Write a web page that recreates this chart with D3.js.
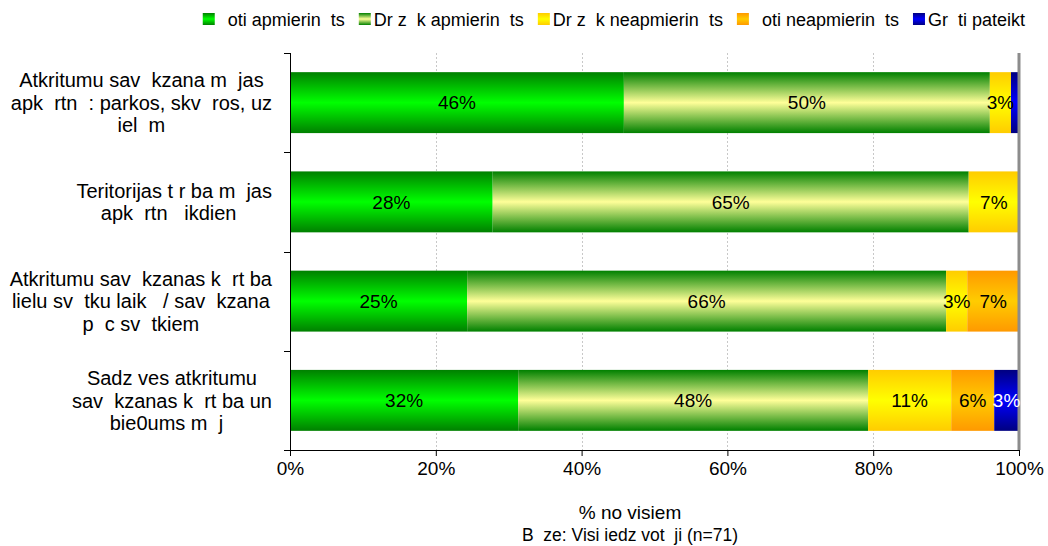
<!DOCTYPE html>
<html>
<head>
<meta charset="utf-8">
<script src="https://cdn.jsdelivr.net/npm/d3@7"></script>
<style>
  html, body { margin: 0; padding: 0; background: #fff; }
  svg { display: block; font-family: "Liberation Sans", Arial, sans-serif; }
  text { white-space: pre; }
</style>
</head>
<body>
<svg id="chart" width="1048" height="546"></svg>
<script>
// ---------- data ----------
const categories = [
  ["Atkritumu sav  kzana m  jas", "apk  rtn  : parkos, skv  ros, uz", "iel  m"],
  ["Teritorijas t r ba m  jas", "apk  rtn   ikdien  "],
  ["Atkritumu sav  kzanas k  rt ba", "lielu sv  tku laik   / sav  kzana", "p  c sv  tkiem"],
  ["Sadz ves atkritumu", "sav  kzanas k  rt ba un", "bie0ums m  j  "]
];
const seriesNames = ["  oti apmierin  ts", "Dr z  k apmierin  ts", "Dr z  k neapmierin  ts", "  oti neapmierin  ts", "Gr  ti pateikt"];
const s1Values = [45.8, 27.8, 24.3, 31.3];
const s2Values = [50.2, 65.3, 65.7, 48.0];
const s3Values = [2.9, 6.9, 2.9, 11.4];
const s4Values = [0, 0, 7.1, 5.9];
const s5Values = [1.1, 0, 0, 3.4];
const s1Labels = ["46%", "28%", "25%", "32%"];
const s2Labels = ["50%", "65%", "66%", "48%"];
const s3Labels = ["3%", "7%", "3%", "11%"];
const s4Labels = ["", "", "7%", "6%"];
const s5Labels = ["", "", "", "3%"];
const tickValues = [0, 20, 40, 60, 80, 100];
const tickLabels = ["0%", "20%", "40%", "60%", "80%", "100%"];
const axisTitle = "% no visiem";
const noteText = "B  ze: Visi iedz vot  ji (n=71)";

// ---------- build ----------
const seriesValues = [s1Values, s2Values, s3Values, s4Values, s5Values];
const seriesLabels = [s1Labels, s2Labels, s3Labels, s4Labels, s5Labels];
const keys = seriesNames.map((d, i) => "s" + i);
const table = categories.map((c, ci) => {
  const row = { idx: ci };
  keys.forEach((k, si) => row[k] = seriesValues[si][ci]);
  return row;
});
const stacked = d3.stack().keys(keys)(table);

const gradStops = [
  ["#008000", "#00ff00"],
  ["#008000", "#ffff99"],
  ["#ffcc00", "#ffff00"],
  ["#ff9900", "#ffcc00"],
  ["#000080", "#0000ff"]
];
const labelColors = ["#000", "#000", "#000", "#000", "#fff"];

const svg = d3.select("#chart");
const defs = svg.append("defs");
gradStops.forEach((g, i) => {
  const lg = defs.append("linearGradient").attr("id", "g" + i)
    .attr("x1", 0).attr("y1", 0).attr("x2", 0).attr("y2", 1);
  lg.append("stop").attr("offset", "0%").attr("stop-color", g[0]);
  lg.append("stop").attr("offset", "50%").attr("stop-color", g[1]);
  lg.append("stop").attr("offset", "100%").attr("stop-color", g[0]);
});

const x = d3.scaleLinear().domain([0, 100]).range([290, 1019]);
const plotTop = 53, plotBottom = 450;
const y = d3.scaleBand().domain(d3.range(categories.length)).range([plotTop, plotBottom])
  .paddingInner(0.386).paddingOuter(0.193);

// gridlines
svg.append("g").selectAll("line").data(tickValues.filter(v => v > 0 && v < 100)).join("line")
  .attr("x1", d => Math.round(x(d)) + 0.5).attr("x2", d => Math.round(x(d)) + 0.5)
  .attr("y1", plotTop).attr("y2", plotBottom)
  .attr("stroke", "#c8c8c8").attr("stroke-width", 1).attr("stroke-dasharray", "2,2");

// bars
const groups = svg.append("g").selectAll("g").data(stacked).join("g")
  .attr("fill", (d, i) => `url(#g${i})`);
groups.selectAll("rect").data(d => d).join("rect")
  .attr("x", d => x(d[0]))
  .attr("width", d => Math.max(0, x(d[1]) - x(d[0])))
  .attr("y", d => y(d.data.idx))
  .attr("height", y.bandwidth());

// right border line
svg.append("line").attr("x1", x(100)).attr("x2", x(100)).attr("y1", plotTop).attr("y2", plotBottom)
  .attr("stroke", "#8c8c8c").attr("stroke-width", 3);

// bar labels
stacked.forEach((s, si) => {
  svg.append("g").selectAll("text").data(s).join("text")
    .attr("x", d => (x(d[0]) + x(d[1])) / 2)
    .attr("y", d => y(d.data.idx) + y.bandwidth() / 2)
    .attr("dy", "0.36em")
    .attr("text-anchor", "middle")
    .attr("font-size", 19)
    .attr("fill", labelColors[si])
    .text(d => seriesLabels[si][d.data.idx]);
});

// left axis
svg.append("line").attr("x1", 290.5).attr("x2", 290.5).attr("y1", plotTop).attr("y2", plotBottom)
  .attr("stroke", "#000");
const step = y.step();
svg.append("g").selectAll("line").data(d3.range(categories.length + 1)).join("line")
  .attr("x1", 284).attr("x2", 290)
  .attr("y1", i => Math.round(plotTop + i * step) + 0.5).attr("y2", i => Math.round(plotTop + i * step) + 0.5)
  .attr("stroke", "#000");

// bottom axis
const xAxis = d3.axisBottom(x).tickValues(tickValues)
  .tickFormat((d, i) => tickLabels[i]).tickSize(6).tickPadding(6);
const gx = svg.append("g").attr("transform", `translate(0,${plotBottom})`).call(xAxis);
gx.select(".domain").attr("stroke", "#000").attr("d", `M${x(0)},0.5H${x(100)}`);
gx.selectAll(".tick line").attr("stroke", "#000");
gx.selectAll(".tick text").attr("font-size", 19).attr("fill", "#000")
  .attr("font-family", "'Liberation Sans', Arial, sans-serif");

// category labels
const lineH = 22.5;
categories.forEach((lines, ci) => {
  const g = svg.append("g");
  const cy = y(ci) + y.bandwidth() / 2;
  const texts = g.selectAll("text").data(lines).join("text")
    .attr("font-size", 20).attr("fill", "#000")
    .attr("text-anchor", "middle")
    .attr("y", (d, i) => cy + (i - (lines.length - 1) / 2) * lineH)
    .attr("dy", "0.36em")
    .text(d => d);
  let maxW = 0;
  texts.each(function () { maxW = Math.max(maxW, this.getComputedTextLength()); });
  texts.attr("x", 272 - maxW / 2);
});

// axis title & note
svg.append("text").attr("x", 630).attr("y", 519).attr("text-anchor", "middle")
  .attr("font-size", 19).text(axisTitle);
svg.append("text").attr("x", 630).attr("y", 541).attr("text-anchor", "middle")
  .attr("font-size", 17.5).text(noteText);

// legend
const legend = svg.append("g");
const items = legend.selectAll("g").data(seriesNames).join("g");
items.append("rect").attr("width", 12).attr("height", 12).attr("y", 13)
  .attr("fill", (d, i) => `url(#g${i})`);
items.append("text").attr("x", 15).attr("y", 25.5).attr("font-size", 18).text(d => d);
let lx = 0;
const pos = [];
items.each(function () {
  pos.push(lx);
  const w = d3.select(this).select("text").node().getComputedTextLength();
  lx += 15 + w + 14;
});
const total = lx - 14;
const startX = 1025 - total;
items.attr("transform", (d, i) => `translate(${startX + pos[i]},0)`);
</script>
</body>
</html>
